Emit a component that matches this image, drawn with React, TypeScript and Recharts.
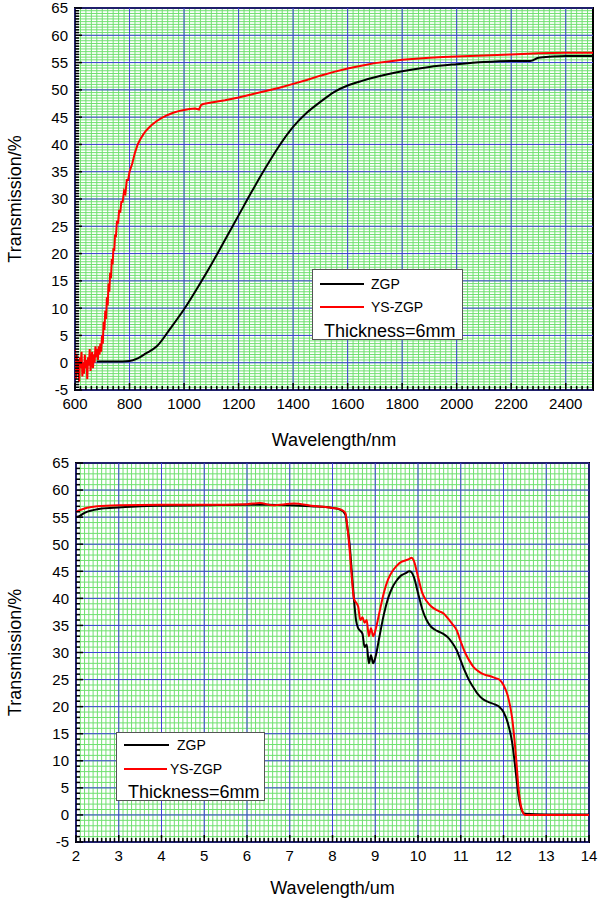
import React from "react";
import {
  CartesianGrid,
  Line,
  LineChart,
  ReferenceArea,
  ReferenceLine,
  XAxis,
  YAxis,
} from "recharts";

const FONT = '"Liberation Sans", Arial, Helvetica, sans-serif';
const GREEN = "#6fe06f";
const BLUE = "#4040d8";

type Pt = [number, number];

// ---- top panel: 600-2500 nm ----
const topXMajor = [600, 800, 1000, 1200, 1400, 1600, 1800, 2000, 2200, 2400];
const topYMajor = [-5, 0, 5, 10, 15, 20, 25, 30, 35, 40, 45, 50, 55, 60, 65];

const topZgp: Pt[] = [
  [680, 0.2], [700, 0.2], [750, 0.2], [800, 0.3], [830, 0.8], [860, 1.7],
  [900, 3.0], [950, 6.3], [1000, 9.8], [1050, 13.8], [1100, 18], [1150, 22.5],
  [1200, 27], [1250, 31.5], [1300, 35.8], [1350, 39.8], [1400, 43.2],
  [1450, 45.8], [1500, 47.8], [1550, 49.6], [1600, 50.8], [1650, 51.6],
  [1700, 52.3], [1800, 53.4], [1900, 54.2], [2000, 54.7], [2100, 55.1],
  [2200, 55.3], [2270, 55.3], [2300, 55.9], [2350, 56.1], [2400, 56.2],
  [2500, 56.2],
];

const topYsZgp: Pt[] = [
  [600, 2.5], [603, -3], [606, 1.5], [609, -2], [612, 0.5], [615, -3.5],
  [618, 1], [621, -1], [624, 2], [627, -2.5], [630, 0], [633, -2],
  [636, 1.5], [639, -1], [642, 0.5], [645, -3], [648, 1], [651, -0.5],
  [654, 2.5], [657, -1.5], [660, 0.5], [663, 2], [666, -1], [669, 1.5],
  [672, 0], [675, 3], [678, 1], [681, 2.5], [684, 0.5], [687, 3],
  [690, 1.5], [693, 3.5], [696, 2], [699, 5], [702, 3.5], [705, 7.5],
  [708, 6], [711, 9.5], [714, 8], [717, 12], [720, 10.5], [723, 14.5],
  [726, 13], [729, 16.5], [732, 15.5], [735, 19], [738, 18], [741, 21],
  [744, 20.5], [747, 23.5], [750, 23], [754, 26], [758, 25.5], [762, 28],
  [766, 27.5], [770, 29.5], [775, 29.5], [780, 31.5], [785, 31], [790, 33.5],
  [795, 33.5], [800, 35], [810, 36.5], [820, 38.5], [830, 40], [840, 41],
  [850, 41.8], [860, 42.5], [870, 43], [880, 43.5], [900, 44.3], [920, 44.9],
  [940, 45.4], [960, 45.8], [980, 46.1], [1000, 46.3], [1020, 46.5],
  [1040, 46.6], [1055, 46.4], [1062, 47.2], [1070, 47.4], [1100, 47.7],
  [1150, 48.1], [1200, 48.6], [1250, 49.2], [1300, 49.8], [1350, 50.4],
  [1400, 51.1], [1450, 51.8], [1500, 52.6], [1550, 53.3], [1600, 53.9],
  [1650, 54.4], [1700, 54.9], [1750, 55.2], [1800, 55.5], [1850, 55.7],
  [1900, 55.9], [1950, 56], [2000, 56.1], [2100, 56.3], [2200, 56.5],
  [2300, 56.7], [2400, 56.8], [2500, 56.8],
];

// ---- bottom panel: 2-14 um ----
const botXMajor = [2, 3, 4, 5, 6, 7, 8, 9, 10, 11, 12, 13, 14];
const botYMajor = topYMajor;

const botZgp: Pt[] = [
  [2.0, 55], [2.1, 55.3], [2.2, 55.8], [2.4, 56.3], [2.6, 56.6], [3, 56.8],
  [3.5, 57], [4, 57.1], [5, 57.2], [6, 57.3], [6.5, 57.3], [7, 57.2],
  [7.5, 57], [8, 56.7], [8.2, 56.3], [8.3, 55.5], [8.35, 53], [8.4, 50],
  [8.45, 45], [8.5, 40], [8.55, 36], [8.6, 34.5], [8.7, 33.5], [8.75, 31],
  [8.8, 31.5], [8.85, 28], [8.9, 29.5], [8.95, 28], [9.0, 29], [9.1, 33],
  [9.2, 37], [9.3, 40], [9.4, 42], [9.5, 43.3], [9.6, 44.2], [9.7, 44.6],
  [9.8, 45], [9.85, 44.8], [9.9, 44], [10, 41], [10.1, 38], [10.2, 36],
  [10.3, 34.8], [10.4, 34.2], [10.5, 33.8], [10.6, 33.4], [10.7, 32.8],
  [10.8, 31.8], [10.9, 30.5], [11, 28.5], [11.1, 26.5], [11.2, 24.8],
  [11.3, 23.5], [11.4, 22.3], [11.5, 21.5], [11.6, 21], [11.7, 20.7],
  [11.8, 20.4], [11.9, 20], [12.0, 19], [12.1, 17], [12.2, 13.5], [12.3, 7],
  [12.35, 3.5], [12.4, 1.5], [12.45, 0.5], [12.5, 0.2], [13, 0.1], [14, 0.1],
];

const botYsZgp: Pt[] = [
  [2.0, 56], [2.2, 56.6], [2.5, 57], [3, 57.2], [4, 57.3], [5, 57.3],
  [6, 57.4], [6.3, 57.6], [6.6, 57.2], [7.1, 57.5], [7.5, 57.1], [8, 56.7],
  [8.2, 56.4], [8.3, 55.8], [8.35, 53], [8.4, 49], [8.45, 44], [8.5, 40],
  [8.6, 38.5], [8.65, 36], [8.7, 36.5], [8.75, 35.5], [8.8, 36], [8.85, 33],
  [8.9, 34.5], [8.95, 33], [9.0, 34], [9.1, 37.5], [9.2, 41], [9.3, 43.5],
  [9.4, 45], [9.5, 46], [9.6, 46.7], [9.7, 47], [9.8, 47.3], [9.85, 47.5],
  [9.9, 47], [10, 44], [10.1, 41], [10.2, 39.5], [10.3, 38.6], [10.4, 38],
  [10.5, 37.6], [10.6, 37.2], [10.7, 36.3], [10.8, 35.3], [10.9, 34.2],
  [11, 32], [11.1, 30], [11.2, 28.5], [11.3, 27.3], [11.4, 26.6],
  [11.5, 26.1], [11.6, 25.8], [11.7, 25.6], [11.8, 25.3], [11.9, 25],
  [12, 24], [12.1, 22], [12.2, 18], [12.3, 10], [12.35, 5], [12.4, 2],
  [12.45, 0.5], [12.5, 0], [13, 0], [14, 0],
];

function range(start: number, end: number, step: number): number[] {
  const n = Math.round((end - start) / step);
  const out: number[] = [];
  for (let i = 0; i <= n; i++) out.push(Math.round((start + i * step) * 1000) / 1000);
  return out;
}

const rows = (pts: Pt[]) => pts.map(([w, t]) => ({ w, t }));

// custom ticks: inward tick marks, labels only on majors
function xTick(majors: number[], margin: number) {
  return (props: any) => {
    const { x, y, payload } = props;
    const major = majors.includes(payload.value);
    const axisY = y - margin;
    return (
      <g>
        <line x1={x} x2={x} y1={axisY} y2={axisY - (major ? 7 : 4)} stroke="#000" strokeWidth={1.5} />
        {major && (
          <text x={x} y={y} dy="0.71em" textAnchor="middle" fontSize={15} fontFamily={FONT} fill="#000">
            {payload.value}
          </text>
        )}
      </g>
    );
  };
}

function yTick(majors: number[], margin: number) {
  return (props: any) => {
    const { x, y, payload } = props;
    const major = majors.includes(payload.value);
    const axisX = x + margin;
    return (
      <g>
        <line x1={axisX} x2={axisX + (major ? 7 : 4)} y1={y} y2={y} stroke="#000" strokeWidth={1.5} />
        {major && (
          <text x={x} y={y} dy="0.36em" textAnchor="end" fontSize={15} fontFamily={FONT} fill="#000">
            {payload.value}
          </text>
        )}
      </g>
    );
  };
}

interface PanelProps {
  height: number;
  margin: { top: number; right: number; left: number; bottom: number };
  yWidth: number;
  xHeight: number;
  xDomain: [number, number];
  xMajor: number[];
  xMinor: number[];
  yMajor: number[];
  yMinor: number[];
  xTitle: string;
  xTitleOffset: number;
  zgp: Pt[];
  ys: Pt[];
  ysSmooth: boolean;
}

function Panel(p: PanelProps) {
  const titleStyle = { fontSize: 18, fontFamily: FONT, fill: "#000" };
  return (
    <LineChart width={600} height={p.height} margin={p.margin}>
      <CartesianGrid stroke={GREEN} strokeWidth={1} />
      {p.xMajor.map((v) => (
        <ReferenceLine key={`x${v}`} x={v} stroke={BLUE} strokeWidth={1} />
      ))}
      {p.yMajor.map((v) => (
        <ReferenceLine key={`y${v}`} y={v} stroke={BLUE} strokeWidth={1} />
      ))}
      <XAxis
        dataKey="w"
        type="number"
        domain={p.xDomain}
        ticks={p.xMinor}
        interval={0}
        tickSize={0}
        tickMargin={8}
        height={p.xHeight}
        axisLine={false}
        allowDataOverflow
        tick={xTick(p.xMajor, 8)}
        label={{ value: p.xTitle, position: "insideBottom", offset: p.xTitleOffset, ...titleStyle }}
      />
      <YAxis
        type="number"
        domain={[-5, 65]}
        ticks={p.yMinor}
        interval={0}
        tickSize={0}
        tickMargin={7}
        width={p.yWidth}
        axisLine={false}
        allowDataOverflow
        tick={yTick(p.yMajor, 7)}
        label={{
          value: "Transmission/%",
          angle: -90,
          position: "insideLeft",
          offset: 15,
          style: { textAnchor: "middle" },
          ...titleStyle,
        }}
      />
      <Line
        data={rows(p.zgp)}
        dataKey="t"
        type="monotone"
        stroke="#000"
        strokeWidth={2}
        dot={false}
        isAnimationActive={false}
      />
      <Line
        data={rows(p.ys)}
        dataKey="t"
        type={p.ysSmooth ? "monotone" : "linear"}
        stroke="#ff0000"
        strokeWidth={2}
        dot={false}
        isAnimationActive={false}
      />
      <ReferenceArea
        x1={p.xDomain[0]}
        x2={p.xDomain[1]}
        y1={-5}
        y2={65}
        fill="none"
        fillOpacity={0}
        stroke="#000"
        strokeWidth={2}
      />
    </LineChart>
  );
}

interface LegendProps {
  left: number;
  top: number;
  width: number;
  height: number;
  row1: number;
  row2: number;
  line1: number;
  line2: number;
  text1: number;
  text2: number;
  noteTop: number;
  noteLeft: number;
}

function LegendBox(l: LegendProps) {
  const entry = (top: number, lineW: number, textX: number, color: string, label: string, thick: number) => (
    <>
      <div style={{ position: "absolute", left: 7, top: top - thick / 2, width: lineW, height: thick, background: color }} />
      <div style={{ position: "absolute", left: textX, top: top - 8, fontSize: 14, lineHeight: "16px", color: "#000" }}>
        {label}
      </div>
    </>
  );
  return (
    <div
      style={{
        position: "absolute",
        left: l.left,
        top: l.top,
        width: l.width,
        height: l.height,
        boxSizing: "border-box",
        border: "1px solid #555",
        background: "#fff",
        fontFamily: FONT,
      }}
    >
      {entry(l.row1, l.line1, l.text1, "#000", "ZGP", 2)}
      {entry(l.row2, l.line2, l.text2, "#ff0000", "YS-ZGP", 1.5)}
      <div style={{ position: "absolute", left: l.noteLeft, top: l.noteTop, fontSize: 18, lineHeight: "18px", color: "#000", whiteSpace: "nowrap" }}>
        Thickness=6mm
      </div>
    </div>
  );
}

export default function App() {
  return (
    <div style={{ position: "absolute", left: 0, top: 0, width: 600, height: 903, background: "#fff" }}>
      <div style={{ position: "absolute", left: 0, top: 0 }}>
        <Panel
          height={450}
          margin={{ top: 8, right: 7, left: 0, bottom: 0 }}
          yWidth={75}
          xHeight={60}
          xDomain={[600, 2500]}
          xMajor={topXMajor}
          xMinor={range(600, 2500, 20)}
          yMajor={topYMajor}
          yMinor={range(-5, 65, 0.5)}
          xTitle="Wavelength/nm"
          xTitleOffset={4}
          zgp={topZgp}
          ys={topYsZgp}
          ysSmooth={false}
        />
      </div>
      <div style={{ position: "absolute", left: 0, top: 450 }}>
        <Panel
          height={453}
          margin={{ top: 13, right: 11, left: 0, bottom: 0 }}
          yWidth={76}
          xHeight={61}
          xDomain={[2, 14]}
          xMajor={botXMajor}
          xMinor={range(2, 14, 0.1)}
          yMajor={botYMajor}
          yMinor={range(-5, 65, 1)}
          xTitle="Wavelength/um"
          xTitleOffset={9}
          zgp={botZgp}
          ys={botYsZgp}
          ysSmooth
        />
      </div>
      <LegendBox
        left={312} top={269} width={151} height={71}
        row1={14} row2={37} line1={44} line2={44} text1={58} text2={58}
        noteTop={52} noteLeft={11}
      />
      <LegendBox
        left={116} top={732} width={149} height={69}
        row1={12} row2={36} line1={45} line2={43} text1={60} text2={53}
        noteTop={50} noteLeft={11}
      />
    </div>
  );
}
